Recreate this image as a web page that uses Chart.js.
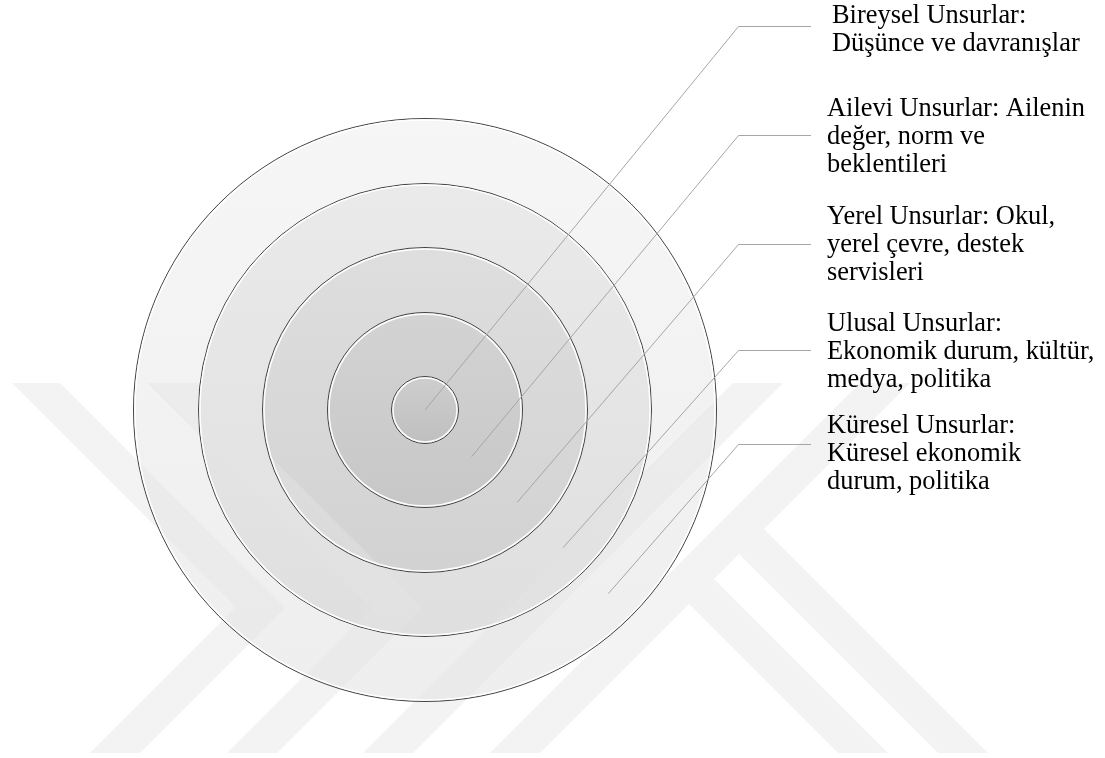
<!DOCTYPE html>
<html>
<head>
<meta charset="utf-8">
<script src="https://cdn.jsdelivr.net/npm/chart.js@4/dist/chart.umd.min.js"></script>
<style>
  html, body { margin: 0; padding: 0; background: #ffffff; }
  #wrap { width: 1105px; height: 758px; position: relative; }
</style>
</head>
<body>
<div id="wrap"><canvas id="c" width="1105" height="758"></canvas></div>
<script>
// ---- data (outer ring first, innermost disc last) ----
const layerNames = ['Küresel Unsurlar', 'Ulusal Unsurlar', 'Yerel Unsurlar', 'Ailevi Unsurlar', 'Bireysel Unsurlar'];
const layerRadii = [292, 227, 163, 98, 34];   // outer radius of each layer
const layerValues = [1, 1, 1, 1, 1];          // each layer is one full ring
const labelLines = [
  ['Küresel Unsurlar:', 'Küresel ekonomik', 'durum, politika'],
  ['Ulusal Unsurlar:', 'Ekonomik durum, kültür,', 'medya, politika'],
  ['Yerel Unsurlar: Okul,', 'yerel çevre, destek', 'servisleri'],
  ['Ailevi Unsurlar: Ailenin', 'değer, norm ve', 'beklentileri'],
  ['Bireysel Unsurlar:', 'Düşünce ve davranışlar']
];

// ---- styles / layout ----
const fillTop    = ['#f6f6f6', '#eaeaea', '#dedede', '#d3d3d3', '#cecece'];
const fillBottom = ['#eeeeee', '#dfdfdf', '#d2d2d2', '#c7c7c7', '#bfbfbf'];
const LAYOUT = {
  pad: { left: 133, top: 118, right: 388, bottom: 56 },
  elbowX: 738.5,
  tickEndX: 811,
  textX: [827, 827, 827, 827, 832],
  leaderY: [444, 350, 244, 135, 26],
  firstBaseline: [433, 331, 224, 116, 23],
  lineGap: 28,
  font: '26.4px "Liberation Serif", "Times New Roman", serif'
};
const WATERMARK = [
  [[12,383],[60,383],[285,608],[140,753],[90,753],[236,607]],
  [[147,383],[197,383],[422,608],[277,753],[227,753],[372,608]],
  [[733,383],[783,383],[413,753],[363,753]],
  [[860,383],[910,383],[540,753],[490,753]],
  [[689,604],[714,579],[888,753],[838,753]],
  [[739,554],[764,529],[988,753],[938,753]]
];

const weights = layerRadii.map((r, i) => r - (i + 1 < layerRadii.length ? layerRadii[i + 1] : 0));

function ringGradient(c) {
  const i = c.datasetIndex;
  const chart = c.chart;
  const area = chart.chartArea;
  if (!area) return fillTop[i];
  const ctrl = chart.getDatasetMeta(i).controller;
  const cy = (area.top + area.bottom) / 2 + (ctrl.offsetY || 0);
  const R = ctrl.outerRadius || layerRadii[i];
  const g = chart.ctx.createLinearGradient(0, cy - R, 0, cy + R);
  g.addColorStop(0, fillTop[i]);
  g.addColorStop(1, fillBottom[i]);
  return g;
}

const decor = {
  id: 'decor',
  afterDatasetsDraw(chart) {
    const ctx = chart.ctx;
    const els = layerNames.map((_, i) => chart.getDatasetMeta(i).data[0]);

    // faint background watermark bands
    ctx.save();
    ctx.beginPath();
    WATERMARK.forEach(poly => {
      poly.forEach(([x, y], k) => (k ? ctx.lineTo(x, y) : ctx.moveTo(x, y)));
      ctx.closePath();
    });
    ctx.fillStyle = 'rgba(228,228,228,0.45)';
    ctx.fill('nonzero');
    ctx.restore();

    // ring outlines: dark edge with a white inner highlight
    ctx.save();
    els.forEach(el => {
      ctx.beginPath();
      ctx.arc(el.x, el.y, el.outerRadius - 0.5, 0, Math.PI * 2);
      ctx.strokeStyle = '#444444';
      ctx.lineWidth = 1;
      ctx.stroke();
      ctx.beginPath();
      ctx.arc(el.x, el.y, el.outerRadius - 2, 0, Math.PI * 2);
      ctx.strokeStyle = 'rgba(255,255,255,0.95)';
      ctx.lineWidth = 1.5;
      ctx.stroke();
    });
    ctx.restore();

    // leader lines
    ctx.save();
    ctx.strokeStyle = '#a6a6a6';
    ctx.lineWidth = 1;
    els.forEach((el, i) => {
      const r = el.innerRadius > 0 ? (el.innerRadius + el.outerRadius) / 2 : 0;
      const sx = el.x + r * Math.SQRT1_2;
      const sy = el.y + r * Math.SQRT1_2;
      const ly = LAYOUT.leaderY[i] + 0.5;
      ctx.beginPath();
      ctx.moveTo(sx, sy);
      ctx.lineTo(LAYOUT.elbowX, ly);
      ctx.lineTo(LAYOUT.tickEndX, ly);
      ctx.stroke();
    });
    ctx.restore();

    // labels
    ctx.save();
    ctx.font = LAYOUT.font;
    ctx.fillStyle = '#000000';
    ctx.textAlign = 'left';
    ctx.textBaseline = 'alphabetic';
    labelLines.forEach((lines, i) => {
      lines.forEach((t, k) => {
        ctx.fillText(t, LAYOUT.textX[i], LAYOUT.firstBaseline[i] + k * LAYOUT.lineGap);
      });
    });
    ctx.restore();
  }
};

new Chart(document.getElementById('c').getContext('2d'), {
  type: 'doughnut',
  data: {
    labels: ['Katman'],
    datasets: layerNames.map((name, i) => ({
      label: name,
      data: [layerValues[i]],
      weight: weights[i],
      backgroundColor: ringGradient,
      borderWidth: 0,
      hoverOffset: 0
    }))
  },
  options: {
    responsive: false,
    animation: false,
    cutout: 0,
    events: [],
    layout: { padding: LAYOUT.pad },
    plugins: { legend: { display: false }, tooltip: { enabled: false } }
  },
  plugins: [decor]
});
</script>
</body>
</html>
